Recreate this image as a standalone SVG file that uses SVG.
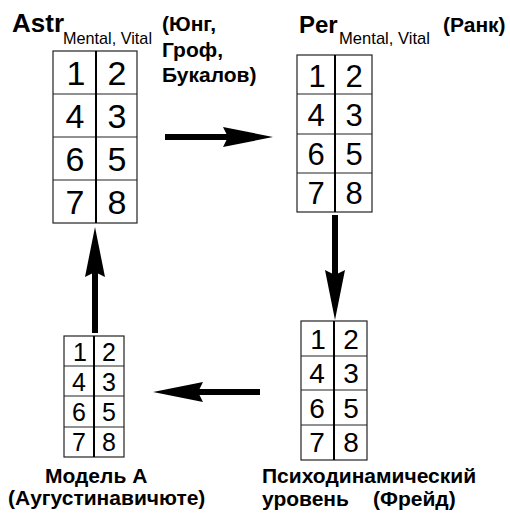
<svg xmlns="http://www.w3.org/2000/svg" width="510" height="513" viewBox="0 0 510 513">
<style>
.box{fill:#fff;stroke:#222;stroke-width:1.2}
.grid{stroke:#222;stroke-width:1.2}
.div{stroke:#000;stroke-width:2}
.dig{font-family:"Liberation Sans",Arial,sans-serif;fill:#000;text-anchor:middle}
.lbl{font-family:"Liberation Sans",Arial,sans-serif;font-weight:bold;fill:#000}
.sub{font-family:"Liberation Sans",Arial,sans-serif;fill:#000}
.shaft{stroke:#000;stroke-width:6;fill:none}
.head{fill:#000}
</style>
<g id="astr">
<rect class="box" x="53" y="51" width="84" height="172"/>
<line class="grid" x1="53" y1="94" x2="137" y2="94"/>
<line class="grid" x1="53" y1="137" x2="137" y2="137"/>
<line class="grid" x1="53" y1="180" x2="137" y2="180"/>
<line class="div" x1="96" y1="51" x2="96" y2="223"/>
<g class="dig" font-size="34">
<text x="76" y="85">1</text><text x="117" y="85">2</text>
<text x="75" y="128">4</text><text x="117" y="128">3</text>
<text x="75" y="171">6</text><text x="117" y="171">5</text>
<text x="75" y="214">7</text><text x="117" y="214">8</text>
</g>
<text class="lbl" x="12" y="32" font-size="26">Astr</text>
<text class="sub" x="63" y="44" font-size="17" textLength="89" lengthAdjust="spacingAndGlyphs">Mental, Vital</text>
<text class="lbl" x="162" y="31" font-size="21">(Юнг,</text>
<text class="lbl" x="162" y="57" font-size="21">Гроф,</text>
<text class="lbl" x="162" y="82" font-size="21">Букалов)</text>
</g>
<g id="per">
<rect class="box" x="297" y="55" width="75" height="157"/>
<line class="grid" x1="297" y1="94" x2="372" y2="94"/>
<line class="grid" x1="297" y1="134" x2="372" y2="134"/>
<line class="grid" x1="297" y1="173" x2="372" y2="173"/>
<line class="div" x1="335" y1="55" x2="335" y2="212"/>
<g class="dig" font-size="31">
<text x="317" y="87">1</text><text x="354" y="87">2</text>
<text x="316" y="126">4</text><text x="354" y="126">3</text>
<text x="316" y="165">6</text><text x="354" y="165">5</text>
<text x="316" y="204">7</text><text x="354" y="204">8</text>
</g>
<text class="lbl" x="299" y="33" font-size="24">Per</text>
<text class="sub" x="339" y="44" font-size="17" textLength="91" lengthAdjust="spacingAndGlyphs">Mental, Vital</text>
<text class="lbl" x="443" y="32" font-size="21">(Ранк)</text>
</g>
<g id="psych">
<rect class="box" x="301" y="321" width="66" height="139"/>
<line class="grid" x1="301" y1="356" x2="367" y2="356"/>
<line class="grid" x1="301" y1="390" x2="367" y2="390"/>
<line class="grid" x1="301" y1="425" x2="367" y2="425"/>
<line class="div" x1="334" y1="321" x2="334" y2="460"/>
<g class="dig" font-size="28">
<text x="318" y="349">1</text><text x="351" y="349">2</text>
<text x="317" y="383">4</text><text x="351" y="383">3</text>
<text x="317" y="418">6</text><text x="351" y="418">5</text>
<text x="317" y="452">7</text><text x="351" y="452">8</text>
</g>
<text class="lbl" x="262" y="483" font-size="21">Психодинамический</text>
<text class="lbl" x="262" y="506" font-size="21">уровень</text>
<text class="lbl" x="373" y="506" font-size="21">(Фрейд)</text>
</g>
<g id="modelA">
<rect class="box" x="64" y="336" width="60" height="121"/>
<line class="grid" x1="64" y1="366" x2="124" y2="366"/>
<line class="grid" x1="64" y1="396" x2="124" y2="396"/>
<line class="grid" x1="64" y1="427" x2="124" y2="427"/>
<line class="div" x1="94" y1="336" x2="94" y2="457" stroke-width="1.5"/>
<g class="dig" font-size="25">
<text x="80" y="361">1</text><text x="109" y="361">2</text>
<text x="79" y="391">4</text><text x="109" y="391">3</text>
<text x="79" y="421">6</text><text x="109" y="421">5</text>
<text x="79" y="451">7</text><text x="109" y="451">8</text>
</g>
<text class="lbl" x="45" y="483" font-size="21">Модель А</text>
<text class="lbl" x="8" y="505" font-size="21">(Аугустинавичюте)</text>
</g>
<g id="connectors">
<line class="shaft" x1="165" y1="137" x2="229" y2="137"/>
<polygon class="head" points="273,137 223,127 228,137 223,147"/>
<line class="shaft" x1="335" y1="215" x2="335" y2="276"/>
<polygon class="head" points="335,320 325,270 335,275 345,270"/>
<line class="shaft" x1="260" y1="392" x2="197" y2="392"/>
<polygon class="head" points="153,392 203,382 198,392 203,402"/>
<line class="shaft" x1="95" y1="333" x2="95" y2="271"/>
<polygon class="head" points="95,227 85,277 95,272 105,277"/>
</g>
</svg>
